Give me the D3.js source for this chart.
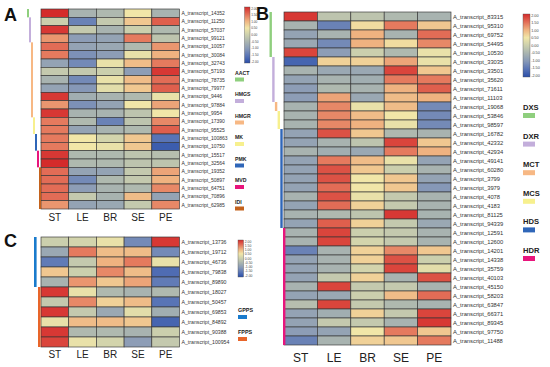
<!DOCTYPE html>
<html><head><meta charset="utf-8">
<script src="https://cdn.jsdelivr.net/npm/d3@7"></script>
<style>body{margin:0;background:#fff}svg{display:block}</style>
</head><body><svg id="c" width="550" height="367"></svg>
<script>
// ---------------- DATA ----------------
const tissues = ["ST","LE","BR","SE","PE"];
const legendTicks = ["2.00","1.50","1.00","0.50","0.00","-0.50","-1.00","-1.50","-2.00"];

const aRows = ["A_transcript_14352","A_transcript_11250","A_transcript_57037","A_transcript_99121","A_transcript_10057","A_transcript_30084","A_transcript_32743","A_transcript_57193","A_transcript_78735","A_transcript_79977","A_transcript_9446","A_transcript_97884","A_transcript_9954","A_transcript_17390","A_transcript_95525","A_transcript_100863","A_transcript_10750","A_transcript_15517","A_transcript_32564","A_transcript_19352","A_transcript_50897","A_transcript_64751","A_transcript_70896","A_transcript_62985"];
const aValues = [
[2.0,-0.5,-0.4,0.5,-0.5],[0.0,-1.3,-0.1,0.8,1.6],[1.9,-0.1,-0.5,0.0,-0.4],[1.2,-0.9,-0.8,1.4,-0.2],
[1.5,-0.8,-0.7,-0.4,1.2],[1.4,-1.1,-0.9,0.4,1.0],[-0.8,-1.2,0.4,0.9,1.4],[-0.1,-0.1,0.0,-0.9,1.9],
[-0.5,-1.2,0.4,0.9,1.5],[-0.8,-1.0,0.3,0.8,1.6],[1.9,-0.6,-0.5,-0.4,0.4],[1.2,-1.1,-0.8,0.5,1.1],
[1.9,-0.5,-0.5,-0.2,0.5],[1.4,-0.4,-1.3,-0.2,1.3],[1.4,-0.8,-0.5,-0.4,1.6],[1.4,0.5,0.1,0.8,-1.5],
[1.4,0.5,0.4,0.8,-1.8],[1.9,-0.4,-0.4,-0.2,-0.3],[2.0,-0.4,-0.4,-0.2,-0.2],[1.5,-0.8,-0.8,-0.1,1.1],
[1.5,-1.2,-0.4,-0.1,1.0],[1.5,-0.9,-0.5,-0.4,1.3],[1.5,-0.1,-0.5,0.9,-0.8],[1.2,-0.8,-0.7,-0.1,1.3]];
const aGroups = ["AACT","HMGS","HMGR","MK","PMK","MVD","IDI"];
const aGroupCounts = [1,3,9,2,2,2,5];

const bRows = ["A_transcript_83315","A_transcript_95310","A_transcript_69752","A_transcript_54495","A_transcript_10530","A_transcript_33035","A_transcript_33501","A_transcript_35620","A_transcript_71611","A_transcript_11103","A_transcript_19068","A_transcript_53846","A_transcript_98597","A_transcript_16782","A_transcript_42332","A_transcript_42934","A_transcript_49141","A_transcript_60280","A_transcript_3799","A_transcript_3979","A_transcript_4078","A_transcript_4183","A_transcript_81125","A_transcript_94339","A_transcript_12591","A_transcript_12600","A_transcript_14201","A_transcript_14338","A_transcript_35759","A_transcript_40103","A_transcript_45150","A_transcript_58203","A_transcript_63847","A_transcript_66371","A_transcript_89345","A_transcript_97750","A_transcript_11488"];
const bValues = [
[1.9,-0.2,-0.2,-0.4,-0.5],[-0.5,-1.3,0.6,1.4,0.8],[-0.8,-0.5,1.0,-0.5,1.5],[-0.7,-1.2,1.0,0.6,1.3],
[1.8,-0.9,0.0,-0.4,0.4],[-1.7,0.7,0.7,1.1,0.4],[-0.5,-0.7,-0.7,1.8,0.8],[-0.8,-0.5,-0.6,1.4,1.4],
[-0.9,-0.4,-0.5,1.0,1.6],[-0.9,1.1,-0.7,0.9,1.0],[-0.5,1.3,0.4,0.9,-1.2],[-0.5,1.3,0.9,0.5,-1.2],
[-0.5,1.3,1.0,0.4,-1.2],[-0.8,1.7,0.8,-0.4,-0.5],[-0.8,-0.5,-0.2,1.8,0.8],[-0.5,-0.6,-0.7,1.4,1.0],
[-0.8,1.4,0.9,0.4,-0.8],[-0.8,1.7,0.8,0.0,-0.5],[-0.8,1.7,0.5,0.8,-0.8],[-0.8,1.5,0.5,0.8,-1.0],
[-0.5,1.7,0.4,-0.1,-0.5],[-0.8,1.5,0.7,-0.1,-0.5],[-0.5,-0.4,-0.2,1.9,-0.5],[-0.8,1.6,0.7,-0.1,-0.7],
[-0.5,1.8,0.0,-0.1,-0.5],[-0.5,1.8,0.1,-0.1,-0.5],[-1.3,-0.5,0.7,1.3,0.8],[-0.8,-0.5,0.7,1.7,0.0],
[-0.8,-0.5,0.1,1.8,0.3],[-0.8,-0.1,0.7,-0.5,1.7],[-0.5,1.8,-0.1,-0.1,-0.5],[-0.8,-0.7,0.0,0.9,1.5],
[-0.3,1.8,-0.1,-0.4,-0.5],[-0.8,-0.6,0.7,-0.1,1.8],[-0.8,-0.1,-0.1,-0.5,1.9],[-0.9,-0.8,0.5,1.4,0.8],
[-1.3,-0.5,0.7,0.8,1.4]];
const bGroups = ["DXS","DXR","MCT","MCS","HDS","HDR"];
const bGroupCounts = [5,5,1,2,11,13];

const cRows = ["A_transcript_13736","A_transcript_19712","A_transcript_46736","A_transcript_79838","A_transcript_89890","A_transcript_18027","A_transcript_50457","A_transcript_69853","A_transcript_84892","A_transcript_90388","A_transcript_100954"];
const cValues = [
[0.0,0.1,0.4,-1.2,1.9],[-0.7,1.4,0.9,0.9,-1.2],[-1.4,-0.1,1.0,1.4,0.4],[0.8,0.0,1.3,0.9,-1.6],
[-0.5,1.2,0.8,1.1,-1.4],[1.9,0.4,-0.4,-0.5,-0.4],[-0.1,1.3,0.7,0.9,-1.5],[1.9,-0.1,-0.7,0.3,-0.6],
[0.4,0.9,0.9,0.8,-1.7],[1.9,-0.4,-0.4,-0.5,0.0],[1.8,0.4,0.1,-0.9,-0.1]];
const cGroups = ["GPPS","FPPS"];
const cGroupCounts = [5,6];

// ---------------- STYLE ----------------
const groupColor = {AACT:"#8fcf7e",HMGS:"#c3aedb",HMGR:"#f7b884",MK:"#f7f08e",PMK:"#2f66b8",MVD:"#e8157c",IDI:"#c4621c",
  DXS:"#8fcf7e",DXR:"#c3aedb",MCT:"#f7b884",MCS:"#f7f08e",HDS:"#2f66b8",HDR:"#e8157c",GPPS:"#1a7bcc",FPPS:"#e8652a"};
const stopVals = [-2,-1.5,-1,-0.5,0,0.5,1,1.5,2];
const stopCols = ["#2a4ea8","#5874b6","#8698b7","#a8b3b0","#cbcfad","#f1e6a8","#efb280","#e26c56","#d42b2b"];
const color = d3.scaleLinear().domain(stopVals).range(stopCols).clamp(true);
const font = "Arial, 'Liberation Sans', sans-serif";

const svg = d3.select("#c");
svg.append("rect").attr("width",550).attr("height",367).attr("fill","#fff");

function panel(o){
  const g = svg.append("g");
  const x = d3.scaleBand().domain(tissues).range([o.x0,o.x1]);
  const y = d3.scaleBand().domain(o.rows).range([o.y0,o.y1]);
  o.values.forEach((row,i)=>{
    g.selectAll(null).data(row).join("rect")
      .attr("x",(d,j)=>x(tissues[j])).attr("y",y(o.rows[i]))
      .attr("width",x.bandwidth()).attr("height",y.bandwidth())
      .attr("fill",d=>color(d)).attr("stroke","#363636").attr("stroke-width",0.65);
  });
  g.selectAll(null).data(o.rows).join("text")
    .attr("x",o.x1+2).attr("y",d=>y(d)+y.bandwidth()/2).attr("dy","0.35em")
    .attr("font-family",font).attr("font-size",o.rowFont).attr("fill","#333").text(d=>d);
  g.selectAll(null).data(tissues).join("text")
    .attr("x",d=>x(d)+x.bandwidth()/2).attr("y",o.colY).attr("text-anchor","middle")
    .attr("font-family",font).attr("font-size",o.colFont).attr("fill","#222").text(d=>d);
  // group bars
  let start = 0;
  o.groups.forEach((gname,k)=>{
    const n = o.counts[k];
    const yt = y(o.rows[start]), yb = y(o.rows[start+n-1])+y.bandwidth();
    g.append("rect").attr("x",o.barX+k*o.barStep).attr("y",yt).attr("width",o.barW).attr("height",yb-yt)
      .attr("fill",groupColor[gname]);
    start += n;
  });
  // panel letter
  g.append("text").attr("x",o.letterX).attr("y",o.letterY).attr("font-family",font).attr("font-weight","bold")
    .attr("font-size",18).attr("fill","#111").text(o.letter);
  // colorbar
  const cb = o.cb;
  const gid = "grad"+o.letter;
  const grad = svg.append("defs").append("linearGradient").attr("id",gid).attr("x1",0).attr("y1",1).attr("x2",0).attr("y2",0);
  stopVals.forEach((v,i)=>grad.append("stop").attr("offset",(v+2)/4).attr("stop-color",stopCols[i]));
  g.append("rect").attr("x",cb.x).attr("y",cb.y0).attr("width",cb.w).attr("height",cb.y1-cb.y0)
    .attr("fill",`url(#${gid})`).attr("stroke","#555").attr("stroke-width",0.4);
  const ty = d3.scalePoint().domain(legendTicks).range([cb.y0+1.5,cb.y1-1.5]);
  g.selectAll(null).data(legendTicks).join("text")
    .attr("x",cb.x+cb.w+1.2).attr("y",d=>ty(d)).attr("dy","0.35em")
    .attr("font-family",font).attr("font-size",cb.font).attr("fill","#444").text(d=>d);
  // gene legend
  const lg = o.lg;
  o.groups.forEach((gname,k)=>{
    const yy = lg.y0 + k*lg.step;
    g.append("text").attr("x",lg.x).attr("y",yy).attr("font-family",font).attr("font-weight","bold")
      .attr("font-size",lg.font).attr("fill","#222").text(gname);
    g.append("rect").attr("x",lg.x).attr("y",yy+lg.sw).attr("width",lg.w).attr("height",lg.h).attr("fill",groupColor[gname]);
  });
}

panel({letter:"A",letterX:4,letterY:21,rows:aRows,values:aValues,groups:aGroups,counts:aGroupCounts,
  x0:41,x1:179.5,y0:9,y1:209,rowFont:5,colFont:10,colY:221,barX:27,barStep:2,barW:2,
  cb:{x:244.5,y0:7,y1:63,w:5.5,font:3.2},lg:{x:235,y0:74.5,step:21.5,font:5.2,sw:3,w:9,h:4}});
panel({letter:"B",letterX:256,letterY:20,rows:bRows,values:bValues,groups:bGroups,counts:bGroupCounts,
  x0:284,x1:451,y0:12,y1:345,rowFont:5.8,colFont:12,colY:362,barX:269.5,barStep:2.7,barW:2.4,
  cb:{x:523,y0:14,y1:77,w:7,font:3.8},lg:{x:523,y0:110,step:28.6,font:7.6,sw:3,w:12,h:5}});
panel({letter:"C",letterX:4,letterY:247,rows:cRows,values:cValues,groups:cGroups,counts:cGroupCounts,
  x0:41,x1:179.5,y0:237,y1:347,rowFont:5.2,colFont:10,colY:358,barX:34,barStep:4,barW:2.6,
  cb:{x:238,y0:240,y1:277,w:5.5,font:3.4},lg:{x:238,y0:312,step:22,font:5.4,sw:3,w:9,h:4}});
</script></body></html>
